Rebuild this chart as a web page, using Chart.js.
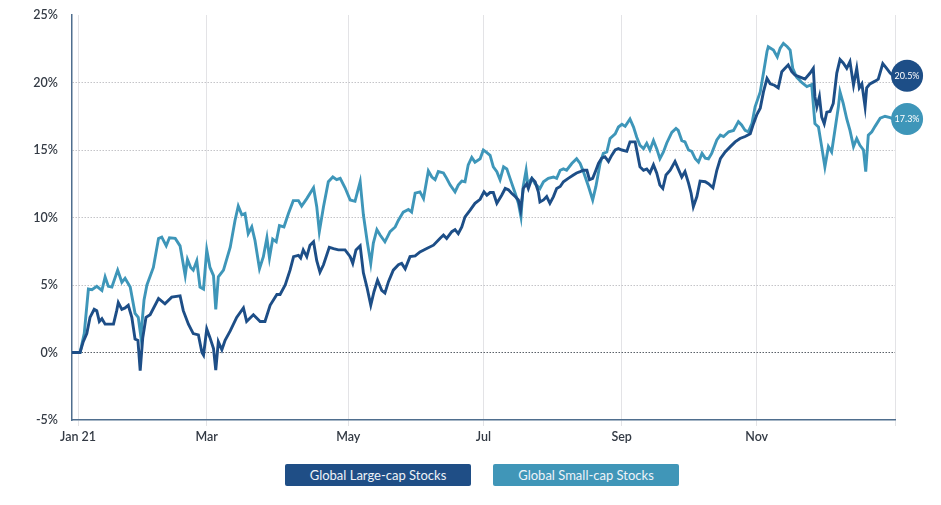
<!DOCTYPE html>
<html>
<head>
<meta charset="utf-8">
<script src="https://cdn.jsdelivr.net/npm/chart.js@4.4.1/dist/chart.umd.min.js"></script>
<style>
  body { margin: 0; background: #fff; font-family: Lato, "Open Sans", sans-serif; }
  #wrap { position: relative; width: 941px; height: 505px; }
  .legend-box {
    position: absolute; top: 464px; width: 186px; height: 22px; border-radius: 2px;
    color: #eef3f8; font-size: 13px; line-height: 22px; text-align: center;
  }
</style>
</head>
<body>
<div id="wrap">
  <canvas id="perfChart" width="941" height="450"></canvas>
  <div class="legend-box" style="left:285px;background:#1f4e86;">Global Large-cap Stocks</div>
  <div class="legend-box" style="left:493px;background:#4096b8;">Global Small-cap Stocks</div>
</div>
<script>
// x values are trading days since the start of Jan 2021
var monthStarts = [0, 40, 84, 126, 169, 211];
var monthLabels = ["Jan 21", "Mar", "May", "Jul", "Sep", "Nov"];
var yearEnd = 254;

var largeX = [
  -1.9, 0.6, 1.6, 2.7, 3.7, 5.0, 5.8, 6.6, 7.4, 8.4,
  11.0, 12.0, 12.5, 13.6, 14.6, 15.6, 16.7, 17.7, 18.6, 19.3,
  20.1, 21.1, 22.4, 25.0, 27.0, 29.1, 31.7, 32.7, 34.3, 35.8,
  37.4, 38.5, 39.0, 40.0, 41.0, 42.1, 42.8, 43.6, 44.7, 45.7,
  47.3, 49.3, 51.4, 52.4, 54.5, 56.6, 58.1, 59.7, 61.8, 62.8,
  64.4, 65.9, 67.0, 68.5, 69.2, 70.0, 71.1, 72.1, 73.2, 74.2,
  75.2, 76.3, 78.1, 79.4, 80.9, 83.0, 84.6, 85.4, 86.4, 87.7,
  88.7, 89.8, 91.0, 92.0, 93.1, 94.4, 95.4, 96.5, 98.0, 99.6,
  100.6, 101.7, 103.2, 104.8, 106.3, 108.4, 110.5, 112.5, 113.6, 114.6,
  116.2, 117.2, 118.2, 119.3, 120.3, 121.9, 123.4, 125.0, 126.2, 127.1,
  128.1, 129.1, 130.2, 131.7, 132.8, 133.8, 134.8, 135.9, 136.9, 137.6,
  138.4, 139.5, 140.0, 141.1, 142.1, 143.1, 143.6, 144.7, 145.7, 146.7,
  147.8, 148.8, 149.9, 150.9, 152.4, 154.0, 155.0, 156.1, 157.1, 158.2,
  159.0, 160.0, 161.0, 161.8, 162.8, 163.8, 164.9, 165.9, 167.0, 168.0,
  169.1, 170.6, 171.6, 173.2, 173.9, 174.7, 175.8, 176.8, 177.8, 178.9,
  179.9, 180.9, 181.8, 182.8, 184.1, 185.6, 186.6, 187.7, 188.7, 189.8,
  190.6, 191.3, 192.4, 193.4, 195.0, 196.0, 197.4, 198.6, 199.7, 201.2,
  202.8, 204.3, 205.8, 207.4, 209.0, 210.0, 211.0, 212.1, 213.1, 214.2,
  215.2, 216.5, 217.7, 218.8, 219.8, 220.8, 221.9, 222.9, 224.5, 226.0,
  227.6, 228.6, 229.1, 229.7, 230.5, 231.2, 232.0, 232.8, 233.8, 234.8,
  235.9, 236.9, 237.9, 239.0, 240.0, 241.1, 242.1, 242.9, 243.7, 244.7,
  245.2, 246.2, 247.8, 248.8, 250.2, 251.4, 252.5, 253.4
];
var largeY = [
  0, 0, 0.8, 1.4, 2.6, 3.2, 3.1, 2.3, 2.5, 2.1,
  2.1, 3.1, 3.7, 3.2, 3.3, 3.5, 2.6, 1.0, 0.9, -1.35,
  1.1, 2.6, 2.8, 4.0, 3.6, 4.1, 4.2, 3.1, 2.1, 1.4,
  1.3, 0.0, -0.2, 1.75, 1.1, 0.3, -1.3, 0.8, 0.2, 0.9,
  1.6, 2.6, 3.3, 2.3, 2.8, 2.3, 2.3, 3.5, 4.3, 4.3,
  5.0, 6.1, 7.1, 7.2, 7.0, 7.6, 7.1, 7.95, 8.2, 6.8,
  5.95, 6.5, 7.8, 7.7, 7.6, 7.6, 7.1, 6.6, 7.6, 7.9,
  5.9, 4.85, 3.5, 4.5, 5.35, 4.6, 4.4, 5.25, 6.1, 6.5,
  6.6, 6.2, 7.1, 7.15, 7.45, 7.7, 7.95, 8.45, 8.7, 8.45,
  8.95, 9.1, 8.8, 9.3, 10.05, 10.55, 11.05, 11.35, 11.9, 11.65,
  11.85, 11.85, 11.05, 11.65, 12.15, 12.05, 11.8, 11.55, 11.3, 10.55,
  12.15, 12.5, 12.15, 12.9, 12.65, 11.9, 11.15, 11.3, 11.55, 11.05,
  11.55, 12.15, 12.3, 12.65, 12.9, 13.15, 13.3, 13.4, 13.5, 13.5,
  12.8, 12.9, 13.5, 14.0, 14.4, 14.5, 14.15, 14.6, 15.0, 15.1,
  15.0, 14.9, 15.6, 15.6, 14.75, 13.75, 13.5, 13.6, 13.3, 13.9,
  13.3, 12.4, 12.15, 13.15, 13.5, 14.15, 13.6, 13.0, 13.4, 12.55,
  11.8, 10.8, 11.55, 12.7, 12.65, 12.5, 12.2, 13.5, 14.35, 14.85,
  15.25, 15.6, 15.85, 16.0, 16.2, 16.95, 17.6, 18.1, 19.3, 20.3,
  19.9, 19.8, 19.6, 20.8, 21.05, 21.3, 20.8, 20.55, 20.4, 20.25,
  20.7, 21.05, 18.95, 18.2, 18.95, 17.45, 16.95, 17.8, 17.85, 18.45,
  20.7, 21.7, 21.45, 21.05, 21.55, 19.8, 21.05, 19.6, 19.9, 18.2,
  19.6, 19.9, 20.1, 20.25, 21.4, 21.05, 20.7, 20.5
];

var smallX = [
  -1.9, 0.6, 1.9, 3.2, 4.3, 5.8, 7.4, 8.4, 9.4, 10.5,
  12.3, 13.6, 14.6, 16.2, 17.7, 18.7, 19.5, 20.5, 21.4, 23.4,
  25.0, 26.0, 27.4, 28.4, 30.2, 31.7, 33.3, 34.0, 35.0, 35.8,
  36.9, 37.9, 39.0, 40.0, 41.0, 42.1, 42.8, 43.6, 45.2, 47.3,
  48.8, 49.8, 50.9, 51.9, 52.9, 54.0, 55.0, 56.4, 57.6, 58.7,
  59.5, 60.5, 61.6, 62.6, 64.0, 65.4, 66.9, 68.5, 69.5, 71.1,
  73.2, 74.2, 75.0, 76.3, 77.8, 79.2, 80.4, 81.5, 83.0, 84.6,
  86.1, 87.7, 88.7, 89.9, 91.0, 91.8, 92.9, 93.9, 95.4, 97.0,
  98.6, 99.6, 101.1, 102.7, 103.7, 104.8, 106.3, 107.4, 108.9, 110.0,
  111.0, 112.0, 113.6, 114.6, 115.7, 117.2, 118.2, 119.3, 120.3, 121.3,
  122.4, 123.4, 125.0, 126.0, 127.1, 128.1, 129.1, 130.2, 131.2, 132.3,
  133.3, 134.3, 135.9, 136.9, 137.7, 138.4, 139.3, 139.8, 141.1, 142.1,
  143.6, 144.7, 146.2, 147.8, 148.8, 149.9, 150.9, 151.9, 153.5, 155.0,
  156.1, 157.1, 158.7, 160.0, 161.0, 162.3, 163.3, 164.4, 165.4, 167.0,
  168.0, 169.1, 170.1, 171.6, 172.7, 173.7, 174.7, 175.8, 176.8, 177.8,
  178.9, 179.9, 180.9, 182.0, 183.0, 184.6, 185.9, 186.6, 187.7, 188.7,
  189.8, 190.8, 191.9, 192.9, 194.0, 195.0, 196.0, 197.0, 198.6, 199.7,
  200.7, 202.3, 203.8, 205.3, 206.3, 207.4, 208.4, 209.5, 210.5, 212.1,
  213.1, 214.2, 214.6, 216.2, 217.4, 218.3, 219.3, 220.5, 221.4, 222.2,
  223.4, 225.0, 226.6, 228.1, 229.1, 230.2, 231.2, 232.2, 233.3, 234.3,
  235.3, 236.4, 236.9, 237.9, 239.0, 240.0, 241.1, 242.1, 243.1, 244.2,
  244.9, 245.7, 246.8, 247.8, 249.4, 250.9, 252.5, 253.4
];
var smallY = [
  0, 0, 1.4, 4.7, 4.65, 4.9, 4.6, 5.6, 4.9, 4.85,
  6.1, 5.2, 5.5, 4.85, 2.9, 2.6, 1.2, 3.9, 5.0, 6.3,
  8.45, 8.55, 7.9, 8.5, 8.45, 7.9, 5.7, 6.9, 6.3, 6.1,
  6.8, 4.85, 4.7, 7.6, 6.3, 5.7, 3.2, 5.6, 6.1, 7.8,
  9.8, 10.85, 10.2, 10.3, 8.8, 9.3, 8.3, 6.2, 7.1, 8.5,
  7.0, 8.4, 8.2, 9.4, 9.3, 10.3, 11.25, 11.25, 10.85, 11.4,
  12.2, 10.8, 8.95, 10.8, 12.65, 13.0, 12.8, 12.9, 12.2, 11.3,
  11.2, 12.65, 10.2, 8.2, 6.6, 8.1, 9.1, 8.7, 8.2, 8.95,
  9.3, 9.8, 10.4, 10.6, 10.4, 11.8, 11.9, 11.4, 13.45, 13.0,
  12.8, 13.4, 13.3, 12.9, 12.4, 11.9, 12.4, 12.7, 12.65, 13.9,
  14.45, 14.1, 14.35, 15.0, 14.8, 14.6, 13.75, 13.4, 12.8, 13.75,
  13.6, 12.9, 11.8, 11.05, 10.05, 12.3, 13.5, 12.5, 12.9, 12.5,
  12.15, 12.65, 12.9, 13.0, 12.9, 13.5, 13.6, 13.5, 14.0, 14.35,
  14.0, 13.4, 12.3, 11.3, 12.3, 14.0, 14.75, 14.85, 15.85, 16.2,
  16.7, 16.9, 16.75, 17.3, 16.7, 15.95, 15.35, 15.1, 15.5, 15.0,
  15.7, 15.1, 14.35, 14.85, 15.5, 16.3, 16.6, 16.45, 15.7, 15.6,
  15.0, 14.9, 14.35, 14.1, 14.75, 14.4, 14.35, 14.75, 15.75, 16.1,
  16.0, 16.35, 16.45, 17.1, 16.85, 16.45, 16.35, 16.95, 18.2, 19.3,
  20.7, 22.3, 22.65, 22.4, 21.9, 22.55, 22.9, 22.65, 22.4, 21.05,
  20.4, 20.0, 19.7, 19.85, 16.95, 16.7, 15.25, 13.75, 15.25, 14.85,
  16.45, 18.2, 19.3, 18.45, 17.3, 16.45, 15.25, 15.85, 15.35, 15.0,
  13.4, 16.1, 16.35, 16.75, 17.35, 17.5, 17.4, 17.3
];

var largeColor = "#1d4e87";
var smallColor = "#3e96b9";

function toPoints(xs, ys) {
  return xs.map(function (d, i) { return { x: d, y: ys[i] }; });
}

// round value badges hanging off the end of each line
var endBadges = {
  id: "endBadges",
  afterDatasetsDraw: function (chart) {
    var ctx = chart.ctx;
    var xs = chart.scales.x, ys = chart.scales.y;
    chart.data.datasets.forEach(function (ds) {
      var last = ds.data[ds.data.length - 1];
      var px = xs.getPixelForValue(last.x) + 14;
      var py = ys.getPixelForValue(last.y);
      ctx.save();
      ctx.beginPath();
      ctx.arc(px, py, 16, 0, Math.PI * 2);
      ctx.fillStyle = ds.borderColor;
      ctx.fill();
      ctx.fillStyle = "#ffffff";
      ctx.font = "9px Lato, 'Open Sans', sans-serif";
      ctx.textAlign = "center";
      ctx.textBaseline = "middle";
      ctx.fillText(last.y.toFixed(1) + "%", px, py + 0.5);
      ctx.restore();
    });
  }
};

var ctx = document.getElementById("perfChart").getContext("2d");
var perfChart = new Chart(ctx, {
  type: "line",
  plugins: [endBadges],
  data: {
    datasets: [
      {
        label: "Global Large-cap Stocks",
        data: toPoints(largeX, largeY),
        borderColor: largeColor,
        borderWidth: 2.9,
        pointRadius: 0,
        tension: 0,
      },
      {
        label: "Global Small-cap Stocks",
        data: toPoints(smallX, smallY),
        borderColor: smallColor,
        borderWidth: 2.9,
        pointRadius: 0,
        tension: 0,
      },
    ],
  },
  options: {
    responsive: false,
    animation: false,
    layout: { padding: { top: 15, right: 46, left: 0, bottom: 0 } },
    plugins: {
      legend: { display: false },
      tooltip: { enabled: false },
    },
    scales: {
      x: {
        type: "linear",
        min: -1.9,
        max: yearEnd,
        afterBuildTicks: function (scale) {
          scale.ticks = monthStarts.concat([yearEnd]).map(function (v) { return { value: v }; });
        },
        afterFit: function (scale) { scale.height = 30; },
        grid: { color: "#e3e3e6", lineWidth: 1, tickLength: 6 },
        border: { display: true, color: "#4f6e8e", width: 1.5 },
        ticks: {
          autoSkip: false,
          maxRotation: 0,
          padding: 3,
          color: "#333a44",
          font: { family: "Lato, 'Open Sans', sans-serif", size: 12.5, weight: "600" },
          callback: function (value) {
            var i = monthStarts.indexOf(value);
            return i >= 0 ? monthLabels[i] : "";
          },
        },
      },
      y: {
        min: -5,
        max: 25,
        afterFit: function (scale) {
          scale.width = 72;
          // tick padding would otherwise push the plot down
          scale.paddingTop = 0;
          scale.paddingBottom = 0;
        },
        grid: {
          drawTicks: false,
          lineWidth: 1,
          color: function (c) {
            var v = c.tick.value;
            if (v === 25 || v === -5) return "rgba(0,0,0,0)";
            return v === 0 ? "#5a6068" : "#c4c4c8";
          },
        },
        border: { display: true, color: "#4f6e8e", width: 1.5, dash: [1.5, 1.5] },
        ticks: {
          stepSize: 5,
          padding: 14,
          color: "#333a44",
          font: { family: "Lato, 'Open Sans', sans-serif", size: 12.5, weight: "600" },
          callback: function (value) { return value + "%"; },
        },
      },
    },
  },
});
</script>
</body>
</html>
